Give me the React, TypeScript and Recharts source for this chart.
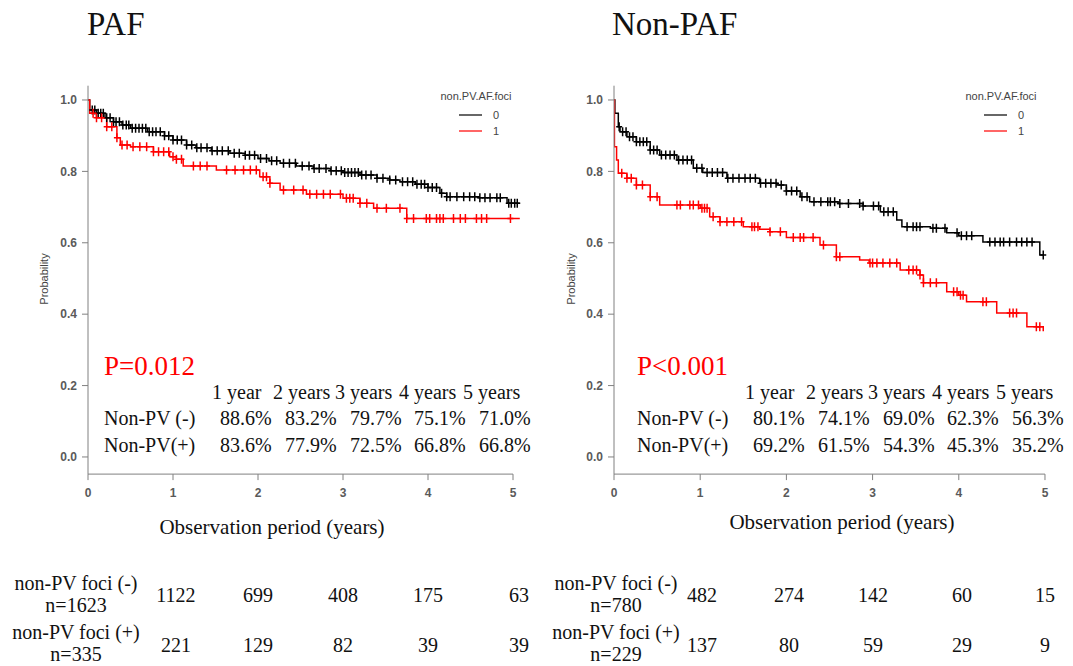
import React from 'react'
import { ComposedChart, Line, Scatter, XAxis, YAxis, ReferenceLine } from 'recharts'

const serif = '"Liberation Serif", "Times New Roman", serif'
const sans = '"Liberation Sans", Arial, sans-serif'
const axisGrey = '#808080'
const tickGrey = '#5a5a5a'

const xTicks = [0, 1, 2, 3, 4, 5]
const yTicks = [0, 0.2, 0.4, 0.6, 0.8, 1.0]
const years = ['1 year', '2 years', '3 years', '4 years', '5 years']

// PAF, non-PV foci 0 (black)
const paf0Time = [0, 0.02, 0.1, 0.2, 0.3, 0.4, 0.5, 0.7, 0.9, 1.0, 1.16, 1.27, 1.45, 1.67, 1.85, 2.0, 2.13, 2.26, 2.45, 2.65, 2.85, 3.0, 3.2, 3.4, 3.55, 3.67, 3.85, 4.0, 4.14, 4.22, 4.6, 4.93, 5.08]
const paf0Surv = [1.0, 0.972, 0.963, 0.95, 0.939, 0.93, 0.921, 0.911, 0.9, 0.888, 0.874, 0.866, 0.858, 0.851, 0.845, 0.836, 0.83, 0.823, 0.815, 0.808, 0.802, 0.797, 0.79, 0.781, 0.776, 0.771, 0.764, 0.755, 0.739, 0.729, 0.726, 0.711, 0.711]
const paf0Censor = [0.05, 0.08, 0.12, 0.15, 0.18, 0.22, 0.26, 0.3, 0.33, 0.37, 0.41, 0.45, 0.48, 0.52, 0.56, 0.6, 0.64, 0.68, 0.72, 0.76, 0.8, 0.85, 0.9, 0.95, 1.0, 1.05, 1.1, 1.16, 1.22, 1.28, 1.33, 1.4, 1.46, 1.52, 1.58, 1.65, 1.72, 1.78, 1.85, 1.9, 1.96, 2.03, 2.1, 2.16, 2.22, 2.3, 2.37, 2.44, 2.52, 2.6, 2.66, 2.72, 2.8, 2.86, 2.92, 2.98, 3.02, 3.06, 3.1, 3.14, 3.18, 3.22, 3.27, 3.33, 3.4, 3.47, 3.55, 3.62, 3.7, 3.76, 3.82, 3.87, 3.92, 3.96, 4.0, 4.05, 4.1, 4.16, 4.22, 4.26, 4.34, 4.42, 4.49, 4.55, 4.61, 4.67, 4.73, 4.81, 4.85, 4.95, 4.98, 5.02, 5.05]

// PAF, non-PV foci 1 (red)
const paf1Time = [0, 0.02, 0.1, 0.22, 0.34, 0.38, 0.5, 0.77, 0.96, 1.04, 1.12, 1.51, 2.02, 2.14, 2.26, 2.57, 3.0, 3.2, 3.36, 3.75, 5.08]
const paf1Surv = [1.0, 0.963, 0.95, 0.925, 0.894, 0.874, 0.869, 0.855, 0.841, 0.834, 0.815, 0.804, 0.785, 0.767, 0.748, 0.736, 0.725, 0.711, 0.697, 0.668, 0.668]
const paf1Censor = [0.06, 0.1, 0.16, 0.22, 0.28, 0.34, 0.4, 0.46, 0.53, 0.61, 0.69, 0.77, 0.83, 0.89, 0.95, 1.0, 1.04, 1.1, 1.24, 1.32, 1.4, 1.63, 1.73, 1.83, 1.91, 1.98, 2.06, 2.1, 2.14, 2.3, 2.42, 2.53, 2.61, 2.69, 2.77, 2.85, 2.97, 3.04, 3.08, 3.12, 3.2, 3.28, 3.4, 3.51, 3.67, 3.75, 3.83, 3.98, 4.02, 4.1, 4.14, 4.18, 4.3, 4.38, 4.44, 4.57, 4.63, 4.69, 4.97]

// Non-PAF, non-PV foci 0 (black)
const npaf0Time = [0, 0.01, 0.05, 0.07, 0.15, 0.26, 0.42, 0.53, 0.73, 0.92, 1.03, 1.31, 1.69, 1.89, 2.0, 2.16, 2.27, 2.6, 2.89, 3.09, 3.28, 3.34, 3.67, 3.86, 4.0, 4.28, 4.94, 4.98]
const npaf0Surv = [1.0, 0.963, 0.925, 0.911, 0.897, 0.883, 0.86, 0.846, 0.832, 0.809, 0.797, 0.781, 0.767, 0.762, 0.745, 0.729, 0.715, 0.71, 0.703, 0.687, 0.664, 0.645, 0.641, 0.628, 0.62, 0.602, 0.566, 0.566]
const npaf0Censor = [0.06, 0.1, 0.14, 0.18, 0.22, 0.26, 0.3, 0.34, 0.38, 0.42, 0.46, 0.5, 0.55, 0.6, 0.65, 0.7, 0.75, 0.8, 0.85, 0.9, 0.96, 1.02, 1.08, 1.14, 1.2, 1.26, 1.32, 1.38, 1.45, 1.52, 1.58, 1.64, 1.7, 1.76, 1.82, 1.88, 1.94, 2.0, 2.06, 2.12, 2.18, 2.24, 2.32, 2.4, 2.48, 2.51, 2.56, 2.62, 2.72, 2.85, 2.89, 3.01, 3.07, 3.13, 3.18, 3.24, 3.4, 3.47, 3.51, 3.55, 3.7, 3.74, 3.84, 3.98, 4.03, 4.09, 4.15, 4.36, 4.42, 4.48, 4.52, 4.59, 4.67, 4.73, 4.79, 4.85, 4.98]

// Non-PAF, non-PV foci 1 (red)
const npaf1Time = [0, 0.005, 0.03, 0.05, 0.15, 0.26, 0.42, 0.53, 1.0, 1.11, 1.23, 1.5, 1.69, 1.81, 2.0, 2.39, 2.58, 2.85, 2.96, 3.32, 3.55, 3.59, 3.86, 4.0, 4.09, 4.44, 4.79, 4.98]
const npaf1Surv = [1.0, 0.869, 0.832, 0.795, 0.781, 0.762, 0.729, 0.706, 0.697, 0.673, 0.659, 0.645, 0.638, 0.631, 0.615, 0.594, 0.561, 0.552, 0.543, 0.524, 0.51, 0.488, 0.463, 0.453, 0.435, 0.403, 0.365, 0.352]
const npaf1Censor = [0.09, 0.15, 0.2, 0.26, 0.33, 0.42, 0.5, 0.73, 0.77, 0.88, 0.92, 0.98, 1.02, 1.05, 1.08, 1.15, 1.23, 1.31, 1.39, 1.48, 1.6, 1.63, 1.67, 1.81, 1.93, 2.08, 2.16, 2.2, 2.31, 2.43, 2.58, 2.62, 2.97, 3.0, 3.05, 3.12, 3.2, 3.28, 3.42, 3.47, 3.51, 3.55, 3.59, 3.67, 3.74, 3.94, 3.98, 4.02, 4.05, 4.28, 4.32, 4.59, 4.63, 4.67, 4.9, 4.94]

// survival table (%), order: non-PV(-), non-PV(+)
const pafRate0 = ['88.6%', '83.2%', '79.7%', '75.1%', '71.0%']
const pafRate1 = ['83.6%', '77.9%', '72.5%', '66.8%', '66.8%']
const npafRate0 = ['80.1%', '74.1%', '69.0%', '62.3%', '56.3%']
const npafRate1 = ['69.2%', '61.5%', '54.3%', '45.3%', '35.2%']

// number at risk at 1..5 years
const pafRisk0 = [1122, 699, 408, 175, 63]
const pafRisk1 = [221, 129, 82, 39, 39]
const npafRisk0 = [482, 274, 142, 60, 15]
const npafRisk1 = [137, 80, 59, 29, 9]

const toSteps = (time: number[], surv: number[]) => time.map((t, i) => ({ t, s: surv[i] }))

const censorPoints = (time: number[], surv: number[], censor: number[]) =>
  censor.map((c) => {
    let s = surv[0]
    for (let i = 0; i < time.length; i++) if (time[i] <= c) s = surv[i]
    return { t: c, s }
  })

const plus = (color: string) => (props: any) => {
  const { cx, cy } = props
  if (cx == null || cy == null) return <g />
  return <path d={`M${cx - 3},${cy}H${cx + 3}M${cx},${cy - 4.5}V${cy + 4.5}`} stroke={color} strokeWidth={1.5} fill="none" />
}

const Y_MIN = -0.048

function KMPanel({ left, width, margin, curves }: any) {
  return (
    <div style={{ position: 'absolute', left, top: 0 }}>
      <ComposedChart width={width} height={560} margin={margin}>
        <XAxis
          dataKey="t"
          type="number"
          domain={[0, 5.1]}
          ticks={xTicks}
          allowDataOverflow
          axisLine={false}
          tickLine={{ stroke: axisGrey }}
          tickSize={6}
          tickMargin={8}
          height={40}
          tick={{ fontFamily: sans, fontSize: 12, fontWeight: 'bold', fill: tickGrey }}
        />
        <YAxis
          type="number"
          domain={[Y_MIN, 1.04]}
          ticks={yTicks}
          allowDataOverflow
          tickFormatter={(v: number) => v.toFixed(1)}
          axisLine={{ stroke: axisGrey }}
          tickLine={{ stroke: axisGrey }}
          tickSize={6}
          tickMargin={5}
          width={50}
          tick={{ fontFamily: sans, fontSize: 12, fontWeight: 'bold', fill: tickGrey }}
        />
        <ReferenceLine segment={[{ x: 0, y: Y_MIN }, { x: 5, y: Y_MIN }]} stroke={axisGrey} ifOverflow="visible" />
        {curves.map((c: any) => (
          <Line
            key={c.name + 'line'}
            data={toSteps(c.time, c.surv)}
            dataKey="s"
            type="stepAfter"
            stroke={c.color}
            strokeWidth={1.5}
            dot={false}
            isAnimationActive={false}
          />
        ))}
        {curves.map((c: any) => (
          <Scatter
            key={c.name + 'cens'}
            data={censorPoints(c.time, c.surv, c.censor)}
            dataKey="s"
            shape={plus(c.color)}
            isAnimationActive={false}
          />
        ))}
      </ComposedChart>
    </div>
  )
}

function LegendBox({ x }: { x: number }) {
  return (
    <g fontFamily={sans} fontSize={11} fill="#444">
      <text x={x + 41} y={100} textAnchor="middle">non.PV.AF.foci</text>
      <line x1={x + 24} x2={x + 47} y1={115} y2={115} stroke="#000" strokeWidth={1.2} />
      <line x1={x + 24} x2={x + 47} y1={131} y2={131} stroke="#ff0000" strokeWidth={1.2} />
      <text x={x + 58} y={119}>0</text>
      <text x={x + 58} y={135}>1</text>
    </g>
  )
}

function SurvTable({ x, p, rate0, rate1 }: any) {
  const heads = [108, 169, 231, 295, 359]
  const cols = [116, 181, 246, 310, 375]
  return (
    <g fontFamily={serif} fontSize={20} fill="#111">
      <text x={x} y={375} fontSize={27} fill="#ff0000">{p}</text>
      {years.map((h, i) => (
        <text key={'h' + i} x={x + heads[i]} y={399}>{h}</text>
      ))}
      <text x={x} y={425}>Non-PV (-)</text>
      <text x={x} y={452}>Non-PV(+)</text>
      {rate0.map((r: string, i: number) => (
        <text key={'a' + i} x={x + cols[i]} y={425}>{r}</text>
      ))}
      {rate1.map((r: string, i: number) => (
        <text key={'b' + i} x={x + cols[i]} y={452}>{r}</text>
      ))}
    </g>
  )
}

function RiskTable({ labelX, cols, n0, n1, risk0, risk1 }: any) {
  return (
    <g fontFamily={serif} fontSize={20} fill="#111" textAnchor="middle">
      <text x={labelX} y={590}>non-PV foci (-)</text>
      <text x={labelX} y={612}>n={n0}</text>
      <text x={labelX} y={639}>non-PV foci (+)</text>
      <text x={labelX} y={661}>n={n1}</text>
      {risk0.map((v: number, i: number) => (
        <text key={'r0' + i} x={cols[i]} y={602}>{v}</text>
      ))}
      {risk1.map((v: number, i: number) => (
        <text key={'r1' + i} x={cols[i]} y={652}>{v}</text>
      ))}
    </g>
  )
}

export default function App() {
  const pafCurves = [
    { name: 'paf0', time: paf0Time, surv: paf0Surv, censor: paf0Censor, color: '#000000' },
    { name: 'paf1', time: paf1Time, surv: paf1Surv, censor: paf1Censor, color: '#ff0000' },
  ]
  const npafCurves = [
    { name: 'npaf0', time: npaf0Time, surv: npaf0Surv, censor: npaf0Censor, color: '#000000' },
    { name: 'npaf1', time: npaf1Time, surv: npaf1Surv, censor: npaf1Censor, color: '#ff0000' },
  ]

  return (
    <div style={{ position: 'absolute', left: 0, top: 0, width: 1073, height: 666, background: '#fff', overflow: 'hidden' }}>
      <KMPanel left={0} width={540} margin={{ top: 85.7, right: 18.5, bottom: 45.9, left: 38 }} curves={pafCurves} />
      <KMPanel left={540} width={533} margin={{ top: 85.7, right: 19.4, bottom: 45.9, left: 24 }} curves={npafCurves} />

      <svg width={1073} height={666} style={{ position: 'absolute', left: 0, top: 0, pointerEvents: 'none' }}>
        <text x={87} y={35} fontFamily={serif} fontSize={33} fill="#111">PAF</text>
        <text x={612} y={35} fontFamily={serif} fontSize={33} fill="#111">Non-PAF</text>

        <text x={48} y={279} transform="rotate(-90 48 279)" textAnchor="middle" fontFamily={sans} fontSize={11} fill="#444">Probability</text>
        <text x={575} y={279} transform="rotate(-90 575 279)" textAnchor="middle" fontFamily={sans} fontSize={11} fill="#444">Probability</text>

        <text x={272} y={534} textAnchor="middle" fontFamily={serif} fontSize={21} fill="#111">Observation period (years)</text>
        <text x={842} y={529} textAnchor="middle" fontFamily={serif} fontSize={21} fill="#111">Observation period (years)</text>

        <LegendBox x={435} />
        <LegendBox x={960} />

        <SurvTable x={104} p="P=0.012" rate0={pafRate0} rate1={pafRate1} />
        <SurvTable x={637} p="P<0.001" rate0={npafRate0} rate1={npafRate1} />

        <RiskTable labelX={76} cols={[176, 258, 343, 428, 519]} n0={1623} n1={335} risk0={pafRisk0} risk1={pafRisk1} />
        <RiskTable labelX={616} cols={[702, 789, 873, 962, 1045]} n0={780} n1={229} risk0={npafRisk0} risk1={npafRisk1} />
      </svg>
    </div>
  )
}
